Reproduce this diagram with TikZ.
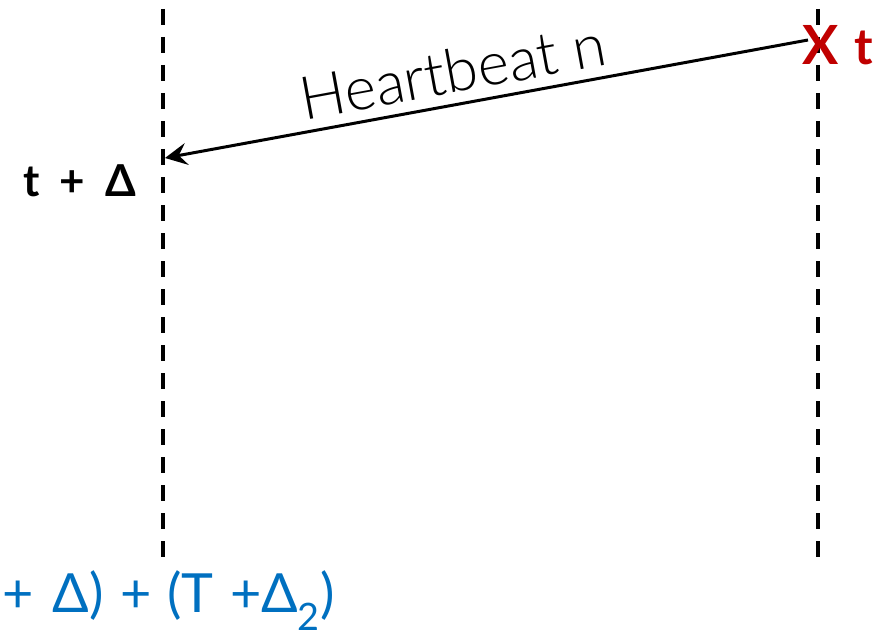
\documentclass[tikz,border=0pt]{standalone}
\usepackage{fontspec}
\setmainfont{Lato}
\newfontfamily\light{Lato Light}
\usetikzlibrary{arrows.meta}
\begin{document}
\begin{tikzpicture}[x=1pt,y=-1pt]
\tikzstyle{lifeline}=[line width=3.5pt,dash pattern=on 16pt off 12pt]
\tikzstyle{msg}=[line width=3pt,-{Stealth[length=22pt,width=22pt,inset=8pt]}]
\tikzstyle{stamp}=[inner sep=0pt,font=\fontsize{40}{48}\selectfont]
\definecolor{failcolor}{RGB}{192,0,0}
\definecolor{timecolor}{RGB}{0,112,192}
\useasboundingbox (0,0) rectangle (874,631);
\coordinate (rtop) at (818,9);
\coordinate (rbot) at (818,557);
\coordinate (ltop) at (163,9);
\coordinate (lbot) at (163,557);
\draw[lifeline] (ltop) -- (lbot);
\draw[lifeline] (rtop) -- (rbot);
\node[stamp,anchor=base,text=failcolor,font=\fontsize{54}{60}\selectfont\bfseries] (x) at (821,65) {X};
\node[stamp,anchor=base west,text=failcolor,font=\fontsize{50}{60}\selectfont\bfseries] (t) at (854,65) {t};
\coordinate (send) at (808,40);
\coordinate (recv) at (165,158);
\draw[msg] (send) -- (recv);
\node[stamp,rotate=10.4,font=\fontsize{60}{66}\selectfont\light] (hb) at (453,71) {Heartbeat n};
\node[stamp,anchor=base east,font=\fontsize{44}{52}\selectfont\bfseries] (tdelta) at (136,196) {t\hspace{0.45em}+\hspace{0.45em}Δ};
\node[stamp,anchor=base east,text=timecolor,font=\fontsize{54}{60}\selectfont] (deadline) at (335,612) {+\hspace{0.35em}Δ)\hspace{0.3em}+\hspace{0.3em}(T\hspace{0.3em}+Δ\textsubscript{2})};
\end{tikzpicture}
\end{document}
